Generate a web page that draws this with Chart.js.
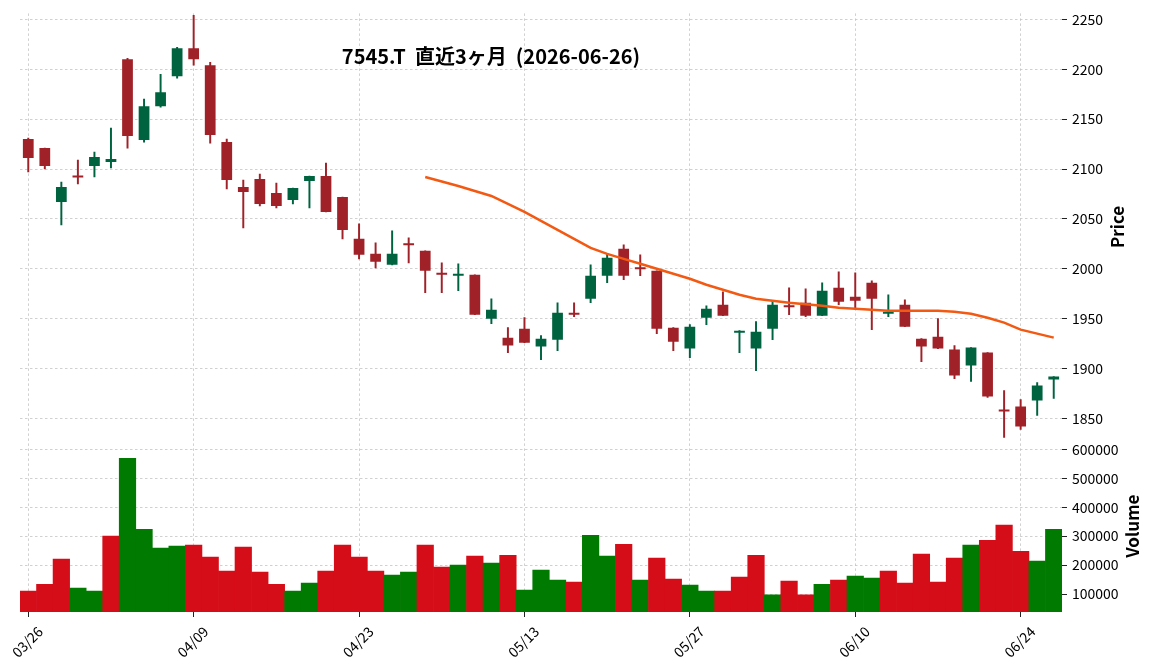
<!DOCTYPE html>
<html>
<head>
<meta charset="utf-8">
<script src="https://cdn.jsdelivr.net/npm/chart.js@4.4.1/dist/chart.umd.min.js"></script>
<style>
  html, body { margin: 0; padding: 0; background: #fff; }
</style>
</head>
<body>
<canvas id="chart" width="1152" height="670"></canvas>
<script>
const FONT = "'Noto Sans CJK JP', 'Noto Sans', sans-serif";
const chartTitle = '7545.T  直近3ヶ月  (2026-06-26)';

// 取引日
const dates = [
  '03/26', '03/27', '03/30', '03/31', '04/01', '04/02', '04/03', '04/06', '04/07', '04/08',
  '04/09', '04/10', '04/13', '04/14', '04/15', '04/16', '04/17', '04/20', '04/21', '04/22',
  '04/23', '04/24', '04/27', '04/28', '04/30', '05/01', '05/07', '05/08', '05/11', '05/12',
  '05/13', '05/14', '05/15', '05/18', '05/19', '05/20', '05/21', '05/22', '05/25', '05/26',
  '05/27', '05/28', '05/29', '06/01', '06/02', '06/03', '06/04', '06/05', '06/08', '06/09',
  '06/10', '06/11', '06/12', '06/15', '06/16', '06/17', '06/18', '06/19', '06/22', '06/23',
  '06/24', '06/25', '06/26'
];
const tickDates = ['03/26', '04/09', '04/23', '05/13', '05/27', '06/10', '06/24'];

// 四本値
const opens = [
  2130, 2121, 2067, 2092.5, 2103, 2107, 2210, 2129, 2163, 2193,
  2221, 2204, 2127, 2082, 2090, 2076, 2069, 2088, 2093, 2072,
  2030, 2015, 2004, 2024.5, 2018, 1996, 1993, 1994, 1950, 1931,
  1940, 1922, 1929, 1956, 1970, 1993, 2020, 2000.5, 1998, 1941,
  1920, 1951, 1964, 1936, 1920, 1940, 1962.5, 1966, 1953, 1981,
  1972, 1986, 1955, 1964, 1930, 1932, 1919, 1903, 1916, 1859,
  1862, 1868, 1889
];
const highs = [
  2131, 2121, 2087, 2109, 2117, 2141, 2211, 2170, 2195, 2222,
  2254, 2207, 2130, 2089, 2095, 2086, 2081, 2093, 2106, 2072,
  2045, 2026, 2038, 2031, 2018, 2006, 2005, 1994, 1970, 1941,
  1951, 1933, 1966, 1966, 2004, 2015, 2024, 2014, 1998, 1941,
  1944, 1963, 1977, 1938, 1947, 1968, 1981, 1980, 1986, 1997,
  1996, 1988, 1974, 1969, 1930, 1950, 1923, 1921, 1916, 1878,
  1869, 1886, 1892
];
const lows = [
  2097, 2100, 2044, 2085, 2092, 2101, 2121, 2127, 2162, 2191,
  2204, 2126, 2080, 2041, 2063, 2061, 2065, 2061, 2057, 2030,
  2010, 2001, 2004, 2006, 1976, 1976, 1978, 1954, 1945, 1916,
  1926, 1909, 1918, 1952, 1966, 1986, 1989, 1993, 1935, 1918,
  1911, 1944, 1953, 1916, 1898, 1929, 1954, 1952, 1953, 1964,
  1961, 1939, 1952, 1942, 1907, 1920, 1890, 1887, 1871, 1831,
  1839, 1853, 1870
];
const closes = [
  2111, 2103, 2082, 2091.5, 2112, 2110, 2133, 2163, 2177, 2221,
  2210, 2134, 2089, 2077, 2065, 2063, 2081, 2093, 2057, 2039,
  2014, 2007, 2015, 2023.5, 1998, 1994, 1995, 1954, 1959, 1923,
  1926, 1930, 1956, 1954, 1993, 2011, 1993, 1999.5, 1940, 1927,
  1942, 1960, 1953, 1938, 1937, 1964, 1961.5, 1953, 1978, 1967,
  1968, 1970, 1956, 1942, 1922, 1920, 1893, 1921, 1872, 1857,
  1842, 1883, 1892
];
const volumes = [
  110000, 134000, 221000, 121000, 110000, 300000, 569000, 324000, 259000, 266000,
  269000, 228000, 179000, 262000, 176000, 134000, 110000, 138000, 179000, 269000,
  228000, 179000, 166000, 176000, 269000, 193000, 200000, 231000, 207000, 234000,
  114000, 183000, 148000, 141000, 303000, 231000, 272000, 148000, 224000, 152000,
  131000, 110000, 110000, 159000, 234000, 97000, 145000, 97000, 134000, 148000,
  162000, 155000, 179000, 138000, 238000, 141000, 224000, 269000, 286000, 338000,
  248000, 214000, 324000
];
// 移動平均線 (25日)
const ma25 = [
  null, null, null, null, null, null, null, null, null, null,
  null, null, null, null, null, null, null, null, null, null,
  null, null, null, null, 2092, 2087.5, 2083, 2078, 2073, 2065,
  2057, 2048, 2039, 2030, 2021, 2015, 2010, 2005, 2000, 1995,
  1990, 1984, 1979, 1974, 1970, 1968, 1966, 1964.5, 1963, 1961,
  1960, 1959, 1958, 1958, 1958, 1958, 1957, 1955, 1951, 1946,
  1939, 1935, 1931
];

const priceTicks = [1850, 1900, 1950, 2000, 2050, 2100, 2150, 2200, 2250];
const volumeTicks = [100000, 200000, 300000, 400000, 500000, 600000];
const priceMin = 1828, priceMax = 2256;
const volMin = 38000, volMax = 631000;

const UP = '#006340';
const DOWN = '#a02128';
const VOL_UP = '#007a00';
const VOL_DOWN = '#d50d18';
const MA_COLOR = '#f25a14';
const GRID = '#c4c4c4';

const candleColor = (i) => closes[i] >= opens[i] ? UP : DOWN;
const volumeColor = (i) => {
  const prev = i === 0 ? opens[0] : closes[i - 1];
  return closes[i] >= prev ? VOL_UP : VOL_DOWN;
};

const tickFont = { family: FONT, size: 14 };

// 軸タイトルと見出し
const titlesPlugin = {
  id: 'panelTitles',
  afterDraw(chart) {
    const { ctx, chartArea, scales } = chart;
    ctx.save();
    ctx.fillStyle = '#000';
    ctx.textAlign = 'center';
    ctx.textBaseline = 'middle';
    ctx.font = 'bold 20px ' + FONT;
    ctx.fillText(chartTitle, chartArea.left + chartArea.width * 0.452, chartArea.top + 43);

    [['y', 'Price', priceTicks], ['yv', 'Volume', volumeTicks]].forEach(([id, text, ticks]) => {
      const s = scales[id];
      ctx.font = tickFont.size + 'px ' + FONT;
      const w = Math.max(...ticks.map(t => ctx.measureText(String(t)).width));
      ctx.font = 'bold 17px ' + FONT;
      const x = s.left + 10 + w + 14;
      const y = (s.top + s.bottom) / 2;
      ctx.save();
      ctx.translate(x, y);
      ctx.rotate(-Math.PI / 2);
      ctx.fillText(text, 0, 0);
      ctx.restore();
    });
    ctx.restore();
  }
};

const gridOpts = {
  color: GRID,
  lineWidth: 0.8,
  tickColor: '#222',
  tickLength: 5,
  tickWidth: 1,
  offset: false
};

new Chart(document.getElementById('chart'), {
  type: 'bar',
  data: {
    labels: dates,
    datasets: [
      {
        type: 'line',
        label: 'MA25',
        data: ma25,
        yAxisID: 'y',
        borderColor: MA_COLOR,
        borderWidth: 2.5,
        pointRadius: 0,
        tension: 0,
        order: 0
      },
      {
        label: 'body',
        data: dates.map((d, i) => [opens[i], closes[i]]),
        yAxisID: 'y',
        backgroundColor: dates.map((d, i) => candleColor(i)),
        barPercentage: 0.65,
        categoryPercentage: 1,
        minBarLength: 2,
        grouped: false,
        order: 1
      },
      {
        label: 'wick',
        data: dates.map((d, i) => [lows[i], highs[i]]),
        yAxisID: 'y',
        backgroundColor: dates.map((d, i) => candleColor(i)),
        barThickness: 1.3,
        grouped: false,
        order: 2
      },
      {
        label: 'Volume',
        data: volumes,
        yAxisID: 'yv',
        base: volMin,
        backgroundColor: dates.map((d, i) => volumeColor(i)),
        barPercentage: 1,
        categoryPercentage: 1,
        grouped: false,
        order: 3
      }
    ]
  },
  options: {
    responsive: false,
    animation: false,
    layout: { padding: { left: 20, top: 12, right: 0, bottom: 0 } },
    plugins: {
      legend: { display: false },
      tooltip: { enabled: false },
      title: { display: false }
    },
    scales: {
      x: {
        type: 'category',
        offset: true,
        grid: gridOpts,
        border: { display: false, dash: [2.5, 2.5] },
        afterBuildTicks: (s) => {
          s.ticks = tickDates.map(d => ({ value: dates.indexOf(d) }));
        },
        afterFit: (s) => {
          s.height = 58;
          s.paddingLeft = 0;
          s.paddingRight = 0;
        },
        ticks: {
          font: { family: FONT, size: 14 },
          color: '#000',
          autoSkip: false,
          minRotation: 45,
          maxRotation: 45,
          labelOffset: 12,
          padding: 6
        }
      },
      y: {
        type: 'linear',
        position: 'right',
        stack: 'panels',
        stackWeight: 428,
        min: priceMin,
        max: priceMax,
        grid: gridOpts,
        border: { display: false, dash: [2.5, 2.5] },
        afterBuildTicks: (s) => { s.ticks = priceTicks.map(v => ({ value: v })); },
        afterFit: (s) => { s.width = 90; },
        ticks: {
          font: tickFont,
          color: '#000',
          padding: 5,
          autoSkip: false,
          callback: (v) => String(v)
        }
      },
      yv: {
        type: 'linear',
        position: 'right',
        stack: 'panels',
        stackWeight: 172,
        min: volMin,
        max: volMax,
        grid: gridOpts,
        border: { display: false, dash: [2.5, 2.5] },
        afterBuildTicks: (s) => { s.ticks = volumeTicks.map(v => ({ value: v })); },
        afterFit: (s) => { s.width = 90; },
        ticks: {
          font: tickFont,
          color: '#000',
          padding: 5,
          autoSkip: false,
          callback: (v) => String(v)
        }
      }
    }
  },
  plugins: [titlesPlugin]
});
</script>
</body>
</html>
